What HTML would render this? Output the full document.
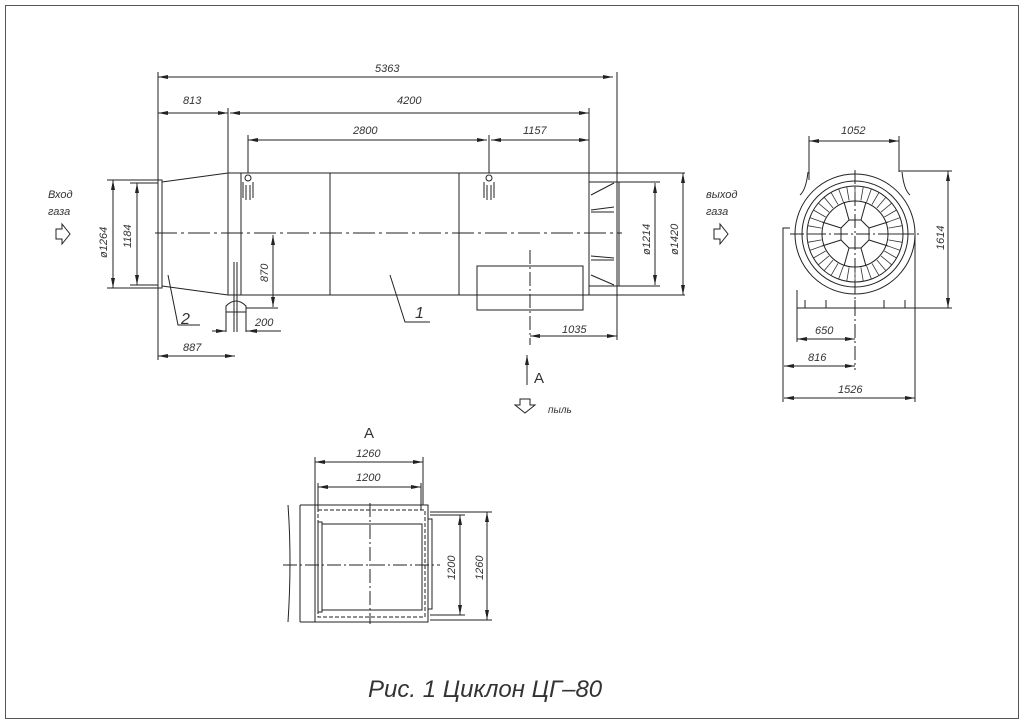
<!DOCTYPE html>
<html><head><meta charset="utf-8"><style>
html,body{margin:0;padding:0;background:#fff;width:1024px;height:724px;overflow:hidden}
svg{display:block}
text{font-family:"Liberation Sans","DejaVu Sans",sans-serif;font-style:italic;fill:#333;font-size:11px}
</style></head><body>
<svg width="1024" height="724" viewBox="0 0 1024 724" xmlns="http://www.w3.org/2000/svg">
<defs>
<marker id="a" viewBox="0 0 10 4" refX="10" refY="2" markerWidth="10" markerHeight="4" orient="auto-start-reverse" markerUnits="userSpaceOnUse"><path d="M0,0 L10,2 L0,4z" fill="#222"/></marker>
</defs>
<rect x="5.5" y="5.5" width="1013" height="713" fill="none" stroke="#555" stroke-width="1"/>
<g stroke="#222" stroke-width="1" fill="none">
<line x1="158" y1="77" x2="613" y2="77" marker-start="url(#a)" marker-end="url(#a)"/>
<line x1="158" y1="113" x2="228" y2="113" marker-start="url(#a)" marker-end="url(#a)"/>
<line x1="230" y1="113" x2="589" y2="113" marker-start="url(#a)" marker-end="url(#a)"/>
<line x1="248" y1="140" x2="487" y2="140" marker-start="url(#a)" marker-end="url(#a)"/>
<line x1="491" y1="140" x2="589" y2="140" marker-start="url(#a)" marker-end="url(#a)"/>
<line x1="158" y1="72" x2="158" y2="360"/>
<line x1="228" y1="108" x2="228" y2="173"/>
<line x1="589" y1="108" x2="589" y2="173"/>
<line x1="617" y1="72" x2="617" y2="340"/>
<line x1="248" y1="135" x2="248" y2="173"/>
<line x1="489" y1="135" x2="489" y2="173"/>
<line x1="228" y1="173" x2="685" y2="173"/>
<line x1="228" y1="295" x2="685" y2="295"/>
<line x1="228" y1="173" x2="228" y2="295"/>
<line x1="241" y1="173" x2="241" y2="295"/>
<line x1="330" y1="173" x2="330" y2="295"/>
<line x1="459" y1="173" x2="459" y2="295"/>
<line x1="589" y1="173" x2="589" y2="295"/>
<rect x="158" y="180" width="4" height="108"/>
<line x1="162" y1="182" x2="228" y2="173"/>
<line x1="162" y1="286" x2="228" y2="295"/>
<circle cx="248" cy="178" r="3"/><line x1="243" y1="182" x2="243" y2="198"/><line x1="253" y1="182" x2="253" y2="198"/><line x1="246" y1="185" x2="246" y2="200"/><line x1="250" y1="185" x2="250" y2="200"/>
<circle cx="489" cy="178" r="3"/><line x1="484" y1="182" x2="484" y2="198"/><line x1="494" y1="182" x2="494" y2="198"/><line x1="487" y1="185" x2="487" y2="200"/><line x1="491" y1="185" x2="491" y2="200"/>
<line x1="619" y1="182" x2="619" y2="286"/>
<line x1="589" y1="182" x2="660" y2="182"/><line x1="589" y1="286" x2="660" y2="286"/>
<path d="M591 195 L614 183 M591 210 L614 207 M591 212 L614 212 M591 256 L614 258 M591 260 L614 260 M591 275 L614 285"/>
<rect x="477" y="266" width="106" height="44"/>
<line x1="530" y1="250" x2="530" y2="345" stroke-dasharray="14 3 2 3"/>
<line x1="155" y1="233" x2="622" y2="233" stroke-dasharray="22 4 3 4"/>
<line x1="234" y1="262" x2="234" y2="332"/><line x1="237" y1="262" x2="237" y2="332"/>
<path d="M226 332 L226 306 Q236 296 246 306 L246 332"/><line x1="226" y1="312" x2="246" y2="312"/>
<line x1="107" y1="180" x2="158" y2="180"/><line x1="107" y1="288" x2="158" y2="288"/>
<line x1="113" y1="180" x2="113" y2="288" marker-start="url(#a)" marker-end="url(#a)"/>
<line x1="130" y1="183" x2="158" y2="183"/><line x1="130" y1="285" x2="158" y2="285"/>
<line x1="137" y1="183" x2="137" y2="285" marker-start="url(#a)" marker-end="url(#a)"/>
<line x1="273" y1="235" x2="273" y2="307" marker-start="url(#a)" marker-end="url(#a)"/>
<line x1="246" y1="308" x2="278" y2="308"/>
<line x1="212" y1="331" x2="226" y2="331" marker-end="url(#a)"/><line x1="261" y1="331" x2="247" y2="331" marker-end="url(#a)"/><line x1="246" y1="331" x2="281" y2="331"/>
<line x1="158" y1="356" x2="235" y2="356" marker-start="url(#a)" marker-end="url(#a)"/>
<line x1="530" y1="336" x2="617" y2="336" marker-start="url(#a)" marker-end="url(#a)"/>
<line x1="655" y1="183" x2="655" y2="285" marker-start="url(#a)" marker-end="url(#a)"/>
<line x1="683" y1="173" x2="683" y2="295" marker-start="url(#a)" marker-end="url(#a)"/>
<polyline points="168,275 178,325 200,325"/>
<polyline points="390,275 405,322 430,322"/>
<line x1="527" y1="385" x2="527" y2="355" marker-end="url(#a)"/>
<path d="M56 229 h6 v-5 l8 10 l-8 10 v-5 h-6z"/>
<path d="M714 229 h6 v-5 l8 10 l-8 10 v-5 h-6z"/>
<path d="M520 399 v6 h-5 l10 8 l10 -8 h-5 v-6z"/>
<circle cx="855" cy="234" r="60"/>
<circle cx="855" cy="234" r="53"/>
<circle cx="855" cy="234" r="48"/>
<circle cx="855" cy="234" r="33"/>
<line x1="887" y1="234" x2="903" y2="234"/><line x1="823" y1="234" x2="807" y2="234"/>
<polygon points="849,220 861,220 869,228 869,240 861,248 849,248 841,240 841,228"/>
<path d="M869 228 L888 222 M869 240 L888 246 M841 228 L822 222 M841 240 L822 246 M861 220 L866 202 M849 220 L844 202 M861 248 L866 266 M849 248 L844 266"/>
<path d="M800 195 Q806 190 808 172 M910 195 Q904 190 902 172"/>
<line x1="797" y1="308" x2="915" y2="308"/>
<path d="M805 300 v8 M826 300 v8 M884 300 v8 M905 300 v8 M855 300 v8"/>
<line x1="797" y1="290" x2="797" y2="342"/>
<line x1="915" y1="234" x2="915" y2="402"/>
<polyline points="790,228 783,228 783,402"/>
<line x1="855" y1="170" x2="855" y2="370" stroke-dasharray="14 3 2 3"/>
<line x1="790" y1="234" x2="920" y2="234" stroke-dasharray="14 3 2 3"/>
<line x1="809" y1="136" x2="809" y2="180"/><line x1="899" y1="136" x2="899" y2="172"/>
<line x1="809" y1="141" x2="899" y2="141" marker-start="url(#a)" marker-end="url(#a)"/>
<line x1="899" y1="171" x2="952" y2="171"/><line x1="915" y1="308" x2="952" y2="308"/>
<line x1="948" y1="171" x2="948" y2="308" marker-start="url(#a)" marker-end="url(#a)"/>
<line x1="797" y1="339" x2="855" y2="339" marker-start="url(#a)" marker-end="url(#a)"/>
<line x1="784" y1="366" x2="855" y2="366" marker-start="url(#a)" marker-end="url(#a)"/>
<line x1="784" y1="398" x2="915" y2="398" marker-start="url(#a)" marker-end="url(#a)"/>
<line x1="315" y1="457" x2="315" y2="505"/><line x1="423" y1="457" x2="423" y2="505"/>
<line x1="315" y1="462" x2="423" y2="462" marker-start="url(#a)" marker-end="url(#a)"/>
<line x1="318" y1="483" x2="318" y2="510"/><line x1="421" y1="483" x2="421" y2="510"/>
<line x1="318" y1="487" x2="421" y2="487" marker-start="url(#a)" marker-end="url(#a)"/>
<rect x="315" y="505" width="113" height="117"/>
<rect x="318" y="510" width="107" height="107" stroke-dasharray="4 2"/>
<rect x="322" y="524" width="100" height="86"/>
<rect x="318" y="522" width="4" height="90"/>
<path d="M428 519 h4 v90 h-4"/>
<path d="M300 505 h15 M300 622 h15 M288 505 Q292 560 288 622 M300 505 v117"/>
<line x1="430" y1="512" x2="492" y2="512"/><line x1="430" y1="620" x2="492" y2="620"/>
<line x1="430" y1="515" x2="465" y2="515"/><line x1="430" y1="615" x2="465" y2="615"/>
<line x1="460" y1="515" x2="460" y2="615" marker-start="url(#a)" marker-end="url(#a)"/>
<line x1="487" y1="512" x2="487" y2="620" marker-start="url(#a)" marker-end="url(#a)"/>
<line x1="283" y1="565" x2="440" y2="565" stroke-dasharray="14 3 2 3"/>
<line x1="370" y1="503" x2="370" y2="624" stroke-dasharray="14 3 2 3"/>
</g>
<g stroke="#333" stroke-width="0.8">
<line x1="889" y1="234" x2="903" y2="234"/><line x1="888.5" y1="239.9" x2="902.3" y2="242.3"/><line x1="886.9" y1="245.6" x2="900.1" y2="250.4"/><line x1="884.4" y1="251" x2="896.6" y2="258"/><line x1="881" y1="255.9" x2="891.8" y2="264.9"/><line x1="876.9" y1="260" x2="885.9" y2="270.8"/><line x1="872" y1="263.4" x2="879" y2="275.6"/><line x1="866.6" y1="265.9" x2="871.4" y2="279.1"/><line x1="860.9" y1="267.5" x2="863.3" y2="281.3"/><line x1="855" y1="268" x2="855" y2="282"/><line x1="849.1" y1="267.5" x2="846.7" y2="281.3"/><line x1="843.4" y1="265.9" x2="838.6" y2="279.1"/><line x1="838" y1="263.4" x2="831" y2="275.6"/><line x1="833.1" y1="260" x2="824.1" y2="270.8"/><line x1="829" y1="255.9" x2="818.2" y2="264.9"/><line x1="825.6" y1="251" x2="813.4" y2="258"/><line x1="823.1" y1="245.6" x2="809.9" y2="250.4"/><line x1="821.5" y1="239.9" x2="807.7" y2="242.3"/><line x1="821" y1="234" x2="807" y2="234"/><line x1="821.5" y1="228.1" x2="807.7" y2="225.7"/><line x1="823.1" y1="222.4" x2="809.9" y2="217.6"/><line x1="825.6" y1="217" x2="813.4" y2="210"/><line x1="829" y1="212.1" x2="818.2" y2="203.1"/><line x1="833.1" y1="208" x2="824.1" y2="197.2"/><line x1="838" y1="204.6" x2="831" y2="192.4"/><line x1="843.4" y1="202.1" x2="838.6" y2="188.9"/><line x1="849.1" y1="200.5" x2="846.7" y2="186.7"/><line x1="855" y1="200" x2="855" y2="186"/><line x1="860.9" y1="200.5" x2="863.3" y2="186.7"/><line x1="866.6" y1="202.1" x2="871.4" y2="188.9"/><line x1="872" y1="204.6" x2="879" y2="192.4"/><line x1="876.9" y1="208" x2="885.9" y2="197.2"/><line x1="881" y1="212.1" x2="891.8" y2="203.1"/><line x1="884.4" y1="217" x2="896.6" y2="210"/><line x1="886.9" y1="222.4" x2="900.1" y2="217.6"/><line x1="888.5" y1="228.1" x2="902.3" y2="225.7"/>
</g>
<text x="375" y="72">5363</text>
<text x="183" y="104">813</text>
<text x="397" y="104">4200</text>
<text x="353" y="134">2800</text>
<text x="523" y="134">1157</text>
<text x="48" y="198">Вход</text><text x="48" y="215">газа</text>
<text x="706" y="198">выход</text><text x="706" y="215">газа</text>
<text transform="translate(107,258) rotate(-90)">ø1264</text>
<text transform="translate(131,248) rotate(-90)">1184</text>
<text transform="translate(268,282) rotate(-90)">870</text>
<text transform="translate(650,255) rotate(-90)">ø1214</text>
<text transform="translate(678,255) rotate(-90)">ø1420</text>
<text x="255" y="326">200</text>
<text x="183" y="351">887</text>
<text x="562" y="333">1035</text>
<text x="181" y="324" style="font-size:16px">2</text>
<text x="415" y="318" style="font-size:16px">1</text>
<text x="534" y="383" style="font-size:15px;font-style:normal">A</text>
<text x="548" y="413" style="font-size:10px">пыль</text>
<text x="841" y="134">1052</text>
<text transform="translate(944,250) rotate(-90)">1614</text>
<text x="815" y="334">650</text>
<text x="808" y="361">816</text>
<text x="838" y="393">1526</text>
<text x="364" y="438" style="font-size:15px;font-style:normal">A</text>
<text x="356" y="457">1260</text>
<text x="356" y="481">1200</text>
<text transform="translate(455,580) rotate(-90)">1200</text>
<text transform="translate(483,580) rotate(-90)">1260</text>
<text x="368" y="697" style="font-size:24px">Рис. 1 Циклон ЦГ–80</text>
</svg>
</body></html>
